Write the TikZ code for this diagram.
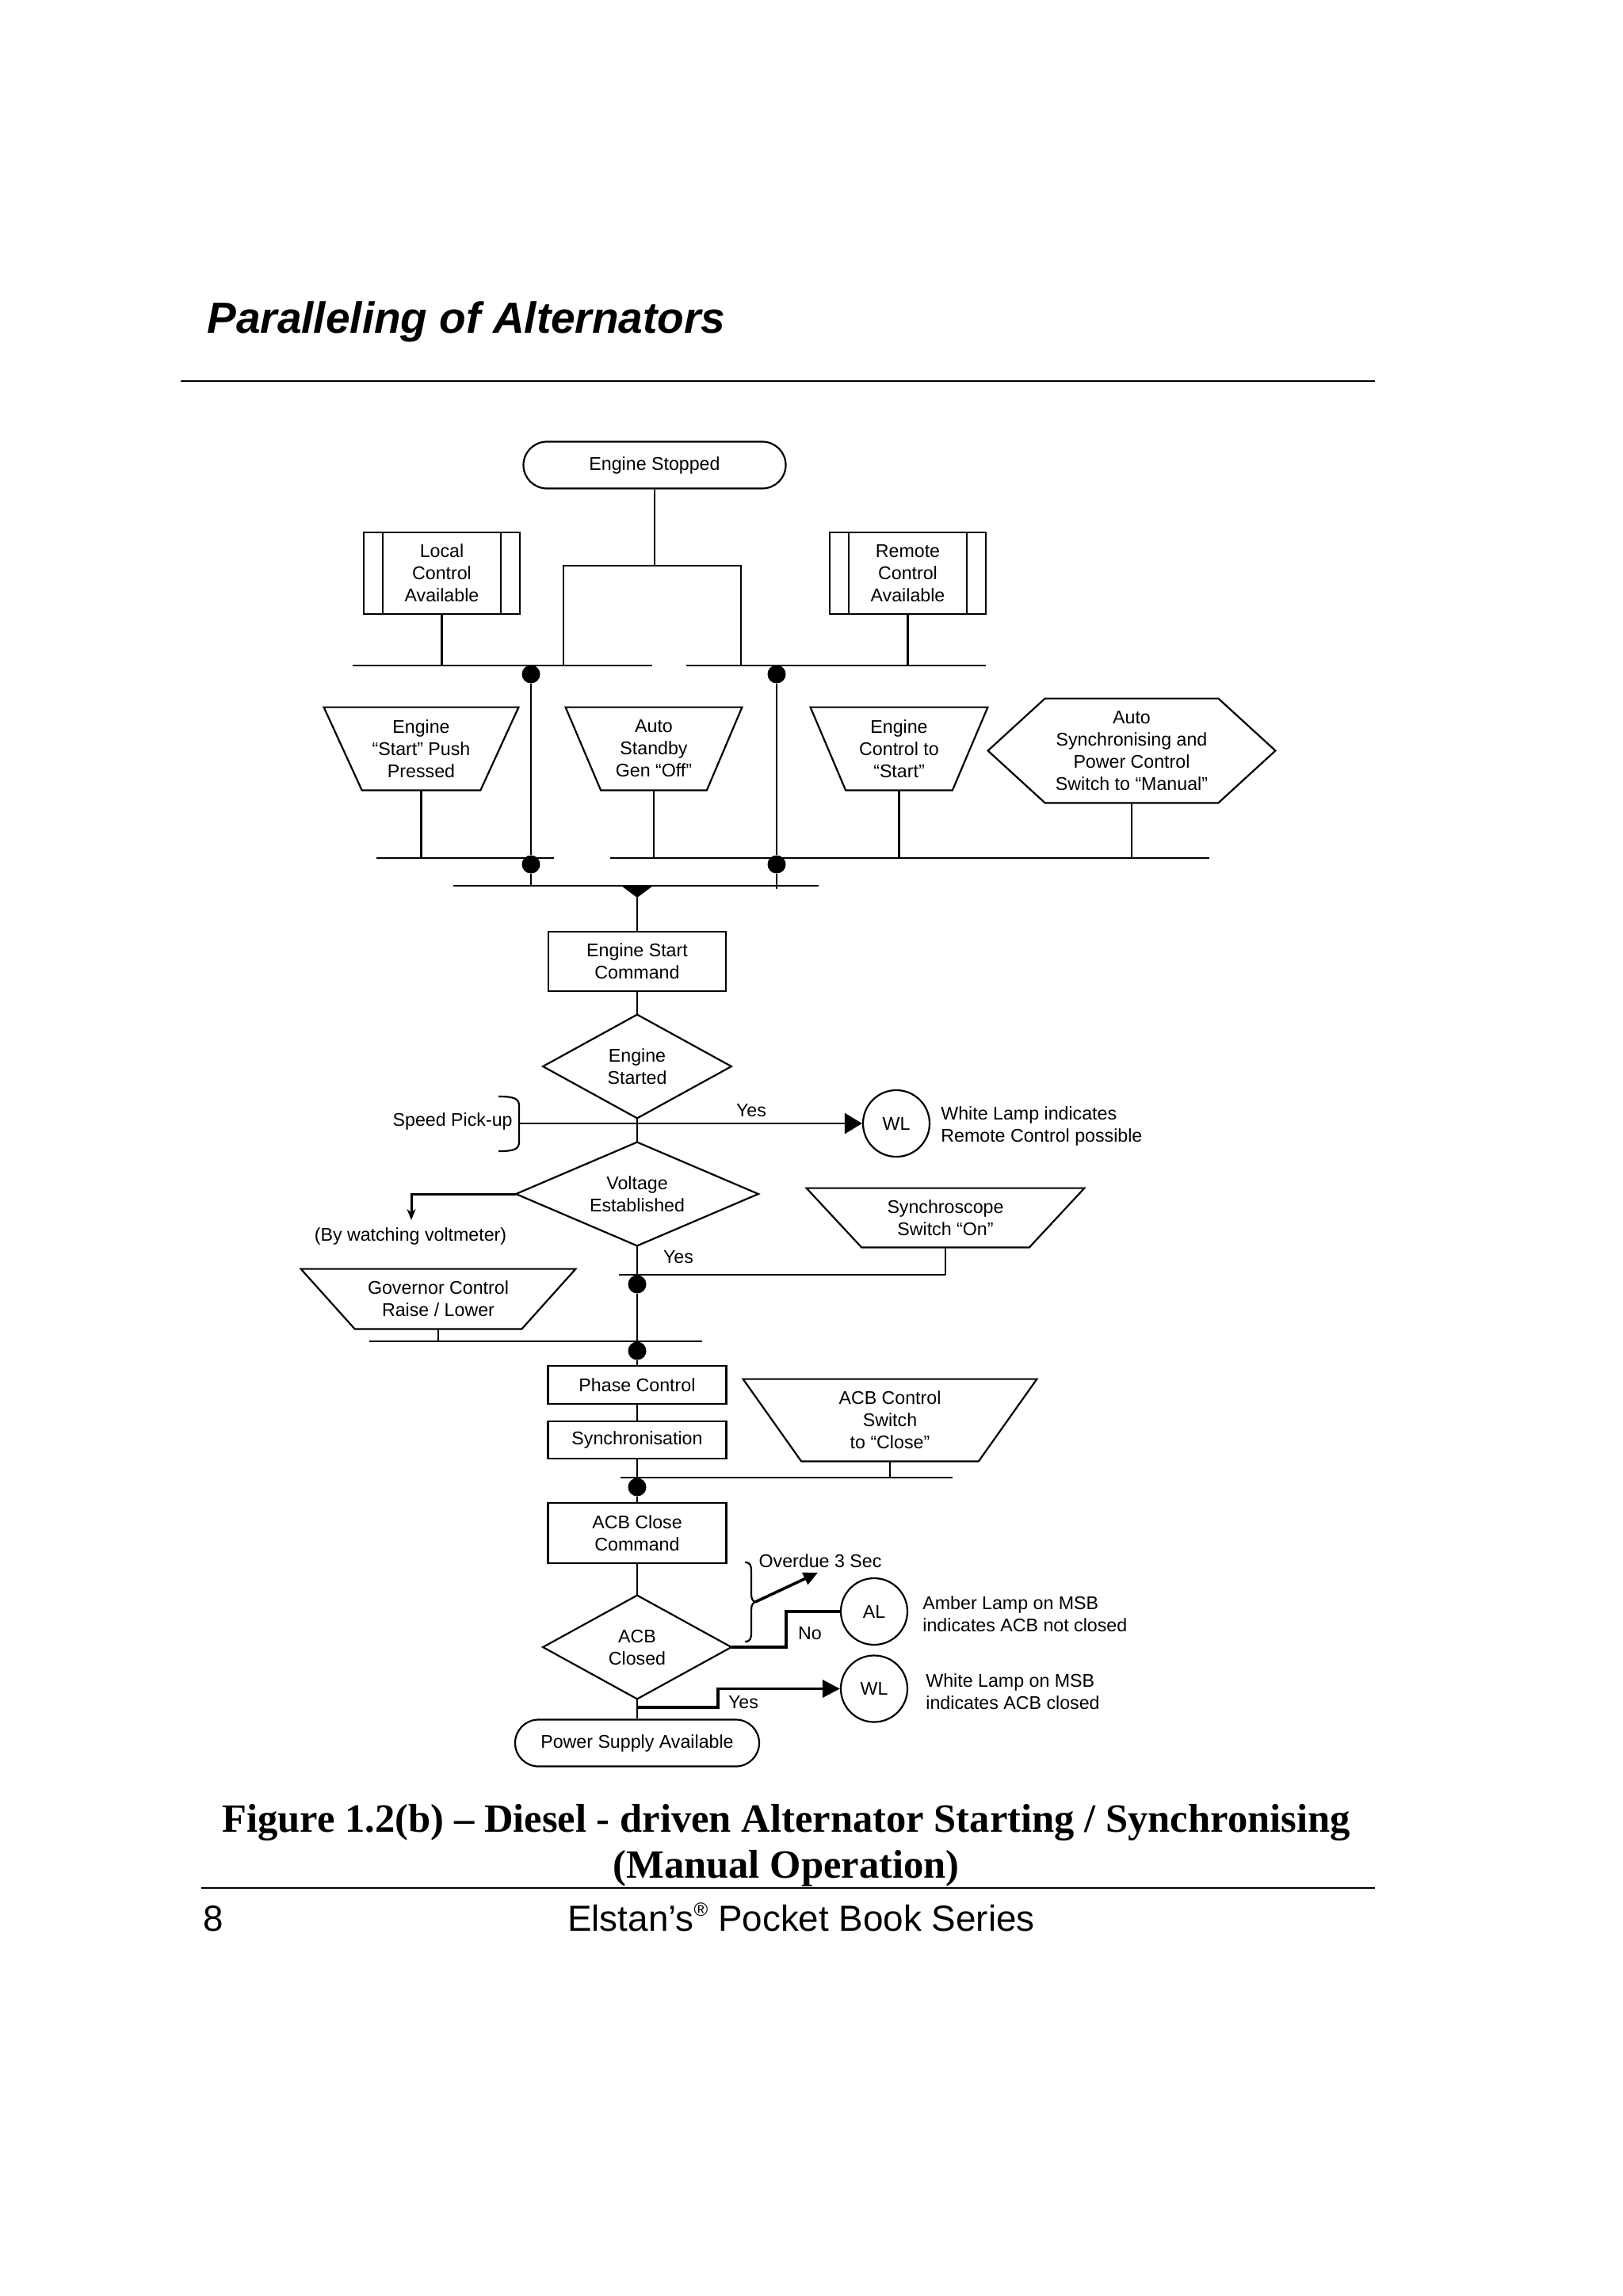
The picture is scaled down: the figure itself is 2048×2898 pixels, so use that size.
\documentclass[tikz,border=0pt]{standalone}
\usepackage{fontspec}
\setmainfont{Liberation Sans}
\newfontfamily\capserif{Liberation Serif}
\usetikzlibrary{shapes.misc,arrows.meta}
\newcommand\bxfont{\fontsize{11.6}{14}\selectfont}
\newcommand\trapout[2]{\draw[ln] (#1.north west) -- (#1.north east) -- ([xshift=-#2]#1.south east) -- ([xshift=#2]#1.south west) -- cycle;}
\newcommand\diamout[1]{\draw[ln] (#1.north) -- (#1.east) -- (#1.south) -- (#1.west) -- cycle;}
\tikzset{
 base/.style={inner sep=0pt, align=center, font=\bxfont},
 ln/.style={line width=1.1pt},
 bus/.style={line width=1.4pt},
 thk/.style={line width=1.8pt},
 lbl/.style={inner sep=0pt, font=\bxfont},
 rbox/.style={base, draw, line width=1.1pt},
 procbox/.style={base, draw, line width=1.1pt, minimum width=98.5pt, minimum height=51.5pt,
   path picture={\draw[line width=1.1pt] ([xshift=12pt]path picture bounding box.north west) -- ([xshift=12pt]path picture bounding box.south west);
                 \draw[line width=1.1pt] ([xshift=-12pt]path picture bounding box.north east) -- ([xshift=-12pt]path picture bounding box.south east);}},
 stadium/.style={base, draw, line width=1.1pt, rounded rectangle},
 lamp/.style={base, draw, circle, line width=1.1pt, minimum size=42pt},
 dot/.style={circle, fill=black, inner sep=0pt, minimum size=11.5pt},
}
\begin{document}
\begin{tikzpicture}[x=0.5pt,y=-0.5pt]
\useasboundingbox (0,0) rectangle (2048,2898);
\fill[white] (0,0) rectangle (2048,2898);
% page header
\node[anchor=base west, inner sep=0pt, font=\fontsize{27.5}{31}\selectfont\bfseries\itshape] (title) at (261,420) {Paralleling of Alternators};
\coordinate (r1a) at (228,481); \coordinate (r1b) at (1735,481);
\draw[line width=1.2pt] (r1a) -- (r1b);
% top part
\node[stadium, minimum width=165.5pt, minimum height=29.5pt] (stop) at (826,587) {Engine Stopped};
\node[procbox] (loc) at (557.5,723.5) {Local\\Control\\Available};
\node[procbox] (rem) at (1145.5,723.5) {Remote\\Control\\Available};
\coordinate (ja) at (711,714); \coordinate (jb) at (935,714);
\coordinate (b1l) at (445,840); \coordinate (b1la) at (823,840);
\coordinate (b1r) at (866,840); \coordinate (b1ra) at (1244,840);
\draw[bus] (b1l) -- (b1la);
\draw[bus] (b1r) -- (b1ra);
\draw[ln] (stop.south) -- (stop.south |- ja);
\draw[ln] (ja |- b1l) -- (ja) -- (jb) -- (jb |- b1r);
\draw[ln] (loc.south) -- (loc.south |- b1l);
\draw[ln] (rem.south) -- (rem.south |- b1r);
\node[dot] (d1) at (670,851) {};
\node[dot] (d2) at (980,851) {};
% trapezoids row
\node[base, minimum width=122.5pt, minimum height=52pt] (tp1) at (531.5,945) {Engine\\“Start” Push\\Pressed};
\trapout{tp1}{24pt}
\node[base, minimum width=111pt, minimum height=52pt] (tp2) at (825,945) {Auto\\Standby\\Gen “Off”};
\trapout{tp2}{22.25pt}
\node[base, minimum width=111.5pt, minimum height=52pt] (tp3) at (1134.5,945) {Engine\\Control to\\“Start”};
\trapout{tp3}{22.25pt}
\node[base, minimum width=181pt, minimum height=65.5pt] (hx) at (1428,947.5) {Auto\\Synchronising and\\Power Control\\Switch to “Manual”};
\draw[ln] (hx.west) -- ([xshift=36pt]hx.north west) -- ([xshift=-36pt]hx.north east) -- (hx.east) -- ([xshift=-36pt]hx.south east) -- ([xshift=36pt]hx.south west) -- cycle;
\coordinate (b2l) at (475,1083); \coordinate (b2la) at (699,1083);
\coordinate (b2r) at (770,1083); \coordinate (b2ra) at (1526,1083);
\draw[bus] (b2l) -- (b2la);
\draw[bus] (b2r) -- (b2ra);
\draw[ln] (tp1.south) -- (tp1.south |- b2l);
\draw[ln] (tp2.south) -- (tp2.south |- b2r);
\draw[ln] (tp3.south) -- (tp3.south |- b2r);
\draw[ln] (hx.south) -- (hx.south |- b2r);
\node[dot] (d3) at (670,1091) {};
\node[dot] (d4) at (980,1091) {};
\coordinate (b3l) at (572,1118); \coordinate (b3r) at (1033,1118);
\draw[bus] (b3l) -- (b3r);
\draw[ln] (d1) -- (d3) -- (d3 |- b3l);
\draw[ln] (d2) -- (d4) -- ([yshift=-2pt]d4 |- b3l);
\coordinate (mg) at (804,1133);
\fill (784,1118) -- (824,1118) -- (mg) -- cycle;
% main column
\node[rbox, minimum width=112pt, minimum height=37.5pt] (esc) at (804,1213.5) {Engine Start\\Command};
\draw[ln] (mg) -- (esc.north);
\node[base, minimum width=118.5pt, minimum height=65pt] (es) at (804,1346) {Engine\\Started};
\diamout{es}
\draw[ln] (esc.south) -- (es.north);
\node[base, minimum width=152.5pt, minimum height=65pt] (vd) at (804,1507) {Voltage\\Established};
\diamout{vd}
\draw[ln] (es.south) -- (vd.north);
% speed pick-up
\node[lbl, anchor=east] (spl) at (647,1415) {Speed Pick-up};
\draw[ln] (629,1384) .. controls (650,1384) and (655,1387) .. (655,1396) -- (655,1441) .. controls (655,1450) and (650,1453) .. (629,1453);
\node[lamp] (wl1) at (1131,1418) {WL};
\coordinate (sp) at (655,1418);
\draw[ln, -{Triangle[length=11pt,width=13pt]}] (sp) -- (wl1.west);
\node[lbl] (y1) at (948,1402) {Yes};
\node[lbl, anchor=west, align=left] (wlt1) at (1187,1421) {White Lamp indicates\\Remote Control possible};
% voltmeter
\coordinate (vm) at (519,1540);
\draw[line width=1.5pt, -{Stealth[length=7pt,width=5.5pt]}] (vd.west) -| (vm);
\node[lbl] (bwv) at (518,1560) {(By watching voltmeter)};
\node[lbl] (y2) at (856,1587) {Yes};
% synchroscope
\node[base, minimum width=175pt, minimum height=37pt] (syn) at (1193,1537) {Synchroscope\\Switch “On”};
\trapout{syn}{34.75pt}
\coordinate (b4l) at (781,1609);
\draw[ln] (syn.south) -- (syn.south |- b4l);
\draw[bus] (syn.south |- b4l) -- (b4l);
\node[dot] (d5) at (804,1621) {};
% governor
\node[base, minimum width=173pt, minimum height=37.5pt] (gov) at (553,1639.5) {Governor Control\\Raise / Lower};
\trapout{gov}{34pt}
\coordinate (b5l) at (466,1693); \coordinate (b5r) at (886,1693);
\draw[bus] (b5l) -- (b5r);
\draw[ln] (gov.south) -- (gov.south |- b5l);
\node[dot] (d6) at (804,1705) {};
\draw[ln] (vd.south) -- (d5) -- (d6);
% phase / sync
\node[rbox, minimum width=112.5pt, minimum height=24pt] (pc) at (804,1748) {Phase Control};
\node[rbox, minimum width=112.5pt, minimum height=23.5pt] (sy) at (804,1817.5) {Synchronisation};
\draw[ln] (d6) -- (pc.north);
\draw[ln] (pc.south) -- (sy.north);
\node[base, minimum width=185pt, minimum height=51.5pt] (acs) at (1123,1792.5) {ACB Control\\Switch\\to “Close”};
\trapout{acs}{36.75pt}
\coordinate (b6l) at (783,1865); \coordinate (b6r) at (1202,1865);
\draw[bus] (b6l) -- (b6r);
\draw[ln] (acs.south) -- (acs.south |- b6l);
\node[dot] (d7) at (804,1877) {};
\draw[ln] (sy.south) -- (d7);
\node[rbox, minimum width=112.5pt, minimum height=38pt] (acc) at (804,1935) {ACB Close\\Command};
\draw[ln] (d7) -- (acc.north);
\node[base, minimum width=118.5pt, minimum height=65pt] (ac) at (804,2079) {ACB\\Closed};
\diamout{ac}
\draw[ln] (acc.south) -- (ac.north);
\node[stadium, minimum width=154pt, minimum height=29.5pt] (psa) at (804,2200) {Power Supply Available};
\draw[ln] (ac.south) -- (psa.north);
% lamps
\node[lamp] (al) at (1103,2034) {AL};
\node[lamp] (wl2) at (1103,2131.5) {WL};
\coordinate (nk) at (992,2079);
\draw[thk] (ac.east) -- (nk) |- (al.west);
\node[lbl] (no) at (1022,2062) {No};
\coordinate (ys) at (804,2155); \coordinate (yk) at (906,2155);
\draw[thk, -{Triangle[length=11pt,width=11pt]}] (ys) -- (yk) |- (wl2.west);
\node[lbl] (y3) at (938,2149) {Yes};
\draw[ln] (940,1972) .. controls (947,1972) and (948,1976) .. (948,1984) -- (948,2012) .. controls (948,2018) and (950,2021) .. (953,2022) .. controls (950,2023) and (948,2026) .. (948,2032) -- (948,2060) .. controls (948,2068) and (947,2072) .. (940,2072);
\coordinate (bt) at (953,2022); \coordinate (ov) at (1032,1985);
\draw[thk, -{Triangle[length=9pt,width=8pt]}] (bt) -- (ov);
\node[lbl] (ovd) at (1035,1970) {Overdue 3 Sec};
\node[lbl, anchor=west, align=left] (alt) at (1164,2037) {Amber Lamp on MSB\\indicates ACB not closed};
\node[lbl, anchor=west, align=left] (wlt2) at (1168,2135) {White Lamp on MSB\\indicates ACB closed};
% caption and footer
\node[anchor=base, inner sep=0pt, font=\capserif\fontsize{25.3}{29}\selectfont\bfseries] (cap1) at (992,2312) {Figure 1.2(b) – Diesel - driven Alternator Starting / Synchronising};
\node[anchor=base, inner sep=0pt, font=\capserif\fontsize{25.3}{29}\selectfont\bfseries] (cap2) at (992,2370) {(Manual Operation)};
\coordinate (r2a) at (254,2383); \coordinate (r2b) at (1735,2383);
\draw[line width=1.2pt] (r2a) -- (r2b);
\node[anchor=base west, inner sep=0pt, font=\fontsize{22.9}{26}\selectfont] (pg) at (256,2437) {8};
\node[anchor=base, inner sep=0pt, font=\fontsize{22.9}{26}\selectfont] (ft) at (1011,2437) {Elstan’s\raisebox{0.75ex}{\fontsize{12}{12}\selectfont ®} Pocket Book Series};
\end{tikzpicture}
\end{document}
